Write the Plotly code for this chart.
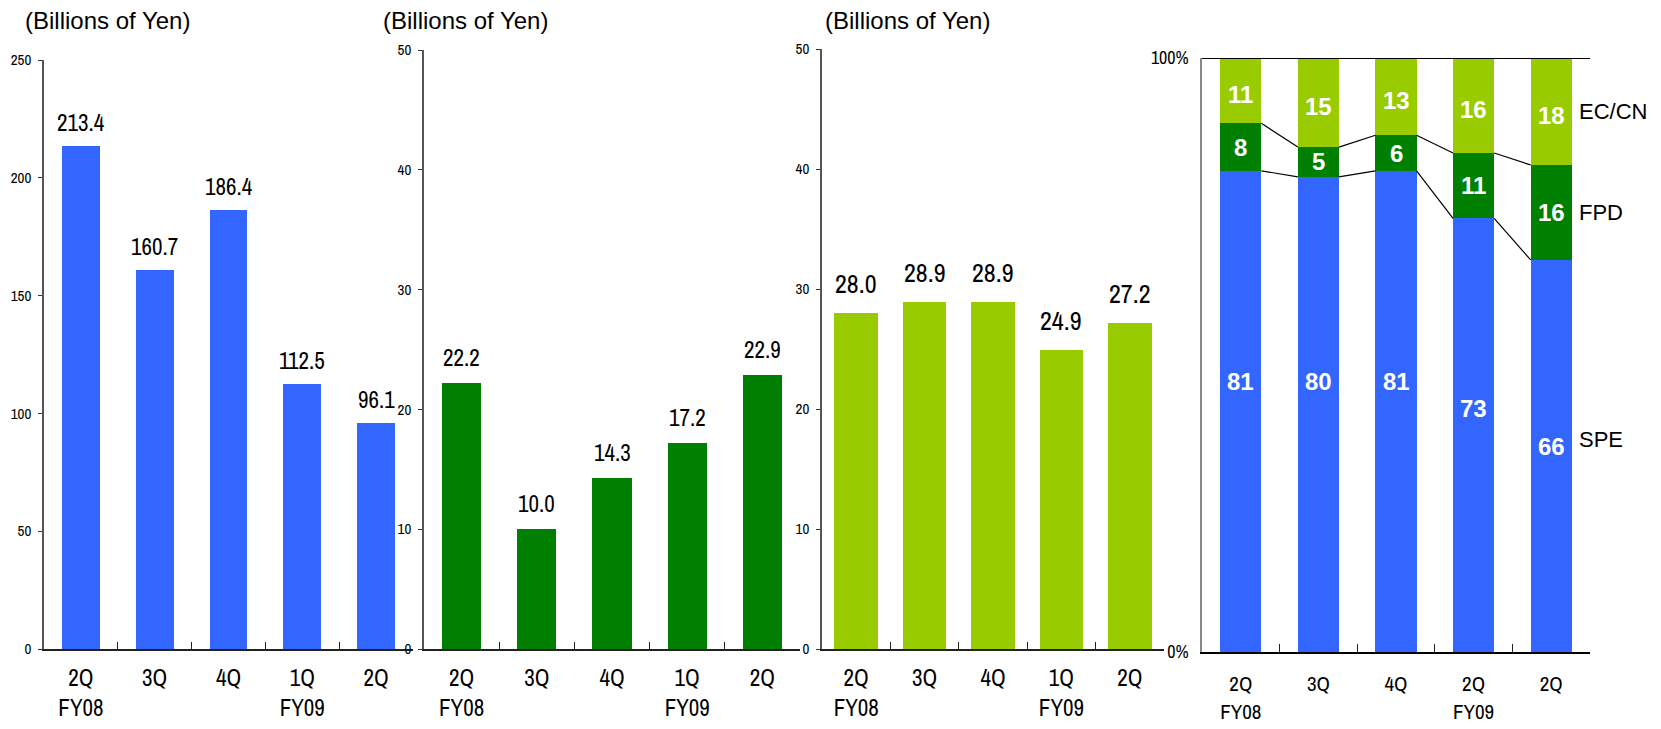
import plotly.graph_objects as go

# ---- data -------------------------------------------------------------
quarters = ["2Q FY08", "3Q FY08", "4Q FY08", "1Q FY09", "2Q FY09"]
quarter_labels = ["2Q<br>FY08", "3Q", "4Q", "1Q<br>FY09", "2Q"]
mix_labels = ["2Q<br>FY08", "3Q", "4Q", "2Q<br>FY09", "2Q"]

spe_sales = [213.4, 160.7, 186.4, 112.5, 96.1]
fpd_sales = [22.2, 10.0, 14.3, 17.2, 22.9]
eccn_sales = [28.0, 28.9, 28.9, 24.9, 27.2]

spe_share = [81, 80, 81, 73, 66]
fpd_share = [8, 5, 6, 11, 16]
eccn_share = [11, 15, 13, 16, 18]

segment_names = ["SPE", "FPD", "EC/CN"]

# ---- style ------------------------------------------------------------
BLUE = "#3366FF"
GREEN = "#008000"
LIME = "#99CC00"
NARROW = "Archivo Narrow, Liberation Sans Narrow, Arial Narrow, DejaVu Sans Condensed, sans-serif"
REGULAR = "Liberation Sans, Arial, sans-serif"
W, H = 1661, 729


def px_x(p):
    return p / W


def px_y(p):
    return 1 - p / H


fig = go.Figure()

# three absolute-value panels
panels = [
    dict(vals=spe_sales, color=BLUE, width=0.51, ax="", rng=[0, 250], dtick=50,
         xdom=[44, 413], ytop=60, font=23, lift=6),
    dict(vals=fpd_sales, color=GREEN, width=0.52, ax="2", rng=[0, 50], dtick=10,
         xdom=[424, 800], ytop=50, font=23, lift=8),
    dict(vals=eccn_sales, color=LIME, width=0.64, ax="3", rng=[0, 50], dtick=10,
         xdom=[822, 1164], ytop=49, font=26, lift=10),
]

annotations = []
shapes = []

for p in panels:
    xa, ya = "x" + p["ax"], "y" + p["ax"]
    fig.add_trace(go.Bar(
        x=quarters, y=p["vals"], width=p["width"],
        marker=dict(color=p["color"], line=dict(width=0)),
        xaxis=xa, yaxis=ya, showlegend=False, hoverinfo="x+y",
    ))
    for q, v in zip(quarters, p["vals"]):
        annotations.append(dict(
            x=q, y=v, xref=xa, yref=ya, text=f"{v:.1f}", showarrow=False,
            yanchor="bottom", yshift=p["lift"],
            font=dict(family=NARROW, size=p["font"], color="#000000"),
        ))
    key = p["ax"]
    fig.layout["xaxis" + key] = dict(
        domain=[px_x(p["xdom"][0]), px_x(p["xdom"][1])], anchor=ya,
        type="category", categoryorder="array", categoryarray=quarters,
        tickvals=quarters, ticktext=quarter_labels, tickson="boundaries",
        ticks="inside", ticklen=7, tickwidth=1.2, tickcolor="#222222",
        showline=True, linecolor="#222222", linewidth=2, showgrid=False,
        ticklabelstandoff=7, range=[-0.5, 4.5], automargin=False,
        tickfont=dict(family=NARROW, size=23, color="#000000"),
    )
    fig.layout["yaxis" + key] = dict(
        domain=[px_y(649), px_y(p["ytop"])], anchor=xa,
        range=p["rng"], dtick=p["dtick"], ticks="outside", ticklen=4,
        tickcolor="#333333", showline=True, linecolor="#555555", linewidth=1.5,
        showgrid=False, zeroline=False, ticklabelstandoff=4, automargin=False,
        tickfont=dict(family=NARROW, size=15, color="#000000"),
    )

# composition panel (percent of total)
mix_width = 0.53
for vals, color in zip([spe_share, fpd_share, eccn_share], [BLUE, GREEN, LIME]):
    fig.add_trace(go.Bar(
        x=quarters, y=vals, width=mix_width,
        marker=dict(color=color, line=dict(width=0)),
        xaxis="x4", yaxis="y4", showlegend=False, hoverinfo="x+y",
    ))

lower = [s for s in spe_share]
upper = [s + f for s, f in zip(spe_share, fpd_share)]

# segment value labels
spe_label_lift = [30, 33, 30, 27, 9]
for i, q in enumerate(quarters):
    segs = [
        (0, spe_share[i], spe_label_lift[i]),
        (lower[i], fpd_share[i], 0),
        (upper[i], eccn_share[i], -4),
    ]
    for base, v, lift in segs:
        annotations.append(dict(
            x=q, y=base + v / 2, xref="x4", yref="y4", text=f"<b>{v}</b>",
            showarrow=False, yshift=lift,
            font=dict(family=REGULAR, size=24, color="#FFFFFF"),
        ))

# connectors between stacked boundaries
for levels in (lower, upper):
    for i in range(len(quarters) - 1):
        shapes.append(dict(
            type="line", xref="x4", yref="y4",
            x0=i + mix_width / 2, x1=i + 1 - mix_width / 2,
            y0=levels[i], y1=levels[i + 1],
            line=dict(color="#000000", width=1.2),
        ))

# 100% reference line
shapes.append(dict(type="line", xref="x4 domain", yref="y4", x0=0, x1=1,
                   y0=100, y1=100, line=dict(color="#000000", width=2)))

# segment names beside the last column
last = len(quarters) - 1
name_levels = [spe_share[last] / 2, lower[last] + fpd_share[last] / 2,
               upper[last] + eccn_share[last] / 2]
name_lift = [16, 0, 0]
for name, yv, lift in zip(segment_names, name_levels, name_lift):
    annotations.append(dict(
        x=px_x(1577), y=yv, xref="paper", yref="y4", text=name,
        showarrow=False, xanchor="left", yshift=lift,
        font=dict(family=REGULAR, size=22, color="#000000"),
    ))

fig.layout["xaxis4"] = dict(
    domain=[px_x(1202), px_x(1590)], anchor="y4",
    type="category", categoryorder="array", categoryarray=quarters,
    tickvals=quarters, ticktext=mix_labels, tickson="boundaries",
    ticks="inside", ticklen=8, tickwidth=1.2, tickcolor="#222222",
    showline=True, linecolor="#000000", linewidth=2, showgrid=False,
    ticklabelstandoff=12, range=[-0.5, 4.5], automargin=False,
    tickfont=dict(family=NARROW, size=21, color="#000000"),
)
fig.layout["yaxis4"] = dict(
    domain=[px_y(652), px_y(58)], anchor="x4", range=[0, 100],
    tickvals=[0, 100], ticktext=["0%", "100%"], ticks="",
    showline=True, linecolor="#888888", linewidth=1.5, showgrid=False,
    zeroline=False, ticklabelstandoff=8, automargin=False,
    tickfont=dict(family=NARROW, size=18, color="#000000"),
)

# unit captions
for xpx in (23, 381, 823):
    annotations.append(dict(
        x=px_x(xpx), y=px_y(20), xref="paper", yref="paper",
        text="(Billions of Yen)", showarrow=False, xanchor="left",
        yanchor="middle", font=dict(family=REGULAR, size=24, color="#000000"),
    ))

fig.update_layout(
    width=W, height=H, margin=dict(l=0, r=0, t=0, b=0, autoexpand=False),
    paper_bgcolor="#FFFFFF", plot_bgcolor="#FFFFFF",
    barmode="stack", annotations=annotations, shapes=shapes,
    showlegend=False,
)

fig.write_html("out.html")
